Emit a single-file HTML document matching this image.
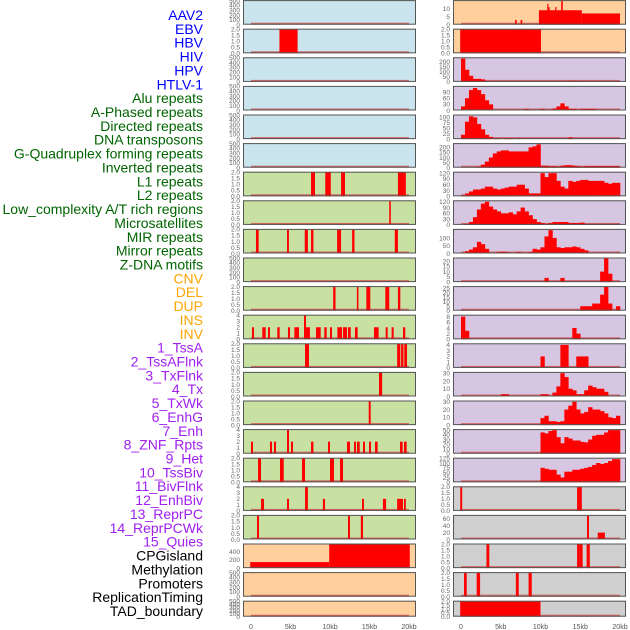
<!DOCTYPE html>
<html><head><meta charset="utf-8"><style>
html,body{margin:0;padding:0;background:#fff;}
svg{display:block;font-family:"Liberation Sans",sans-serif;}
</style></head><body>
<svg id="chart" width="630" height="630" viewBox="0 0 630 630"></svg>
<script>
const labels = ["AAV2","EBV","HBV","HIV","HPV","HTLV-1","Alu repeats","A-Phased repeats","Directed repeats","DNA transposons","G-Quadruplex forming repeats","Inverted repeats","L1 repeats","L2 repeats","Low_complexity A/T rich regions","Microsatellites","MIR repeats","Mirror repeats","Z-DNA motifs","CNV","DEL","DUP","INS","INV","1_TssA","2_TssAFlnk","3_TxFlnk","4_Tx","5_TxWk","6_EnhG","7_Enh","8_ZNF_Rpts","9_Het","10_TssBiv","11_BivFlnk","12_EnhBiv","13_ReprPC","14_ReprPCWk","15_Quies","CPGisland","Methylation","Promoters","ReplicationTiming","TAD_boundary"];
const labelGroups = [6,13,5,15,5];
const groupColors = ["#0000ff","#006400","#ffa500","#a020f0","#000000"];
const xTickLabels = ["0","5kb","10kb","15kb","20kb"];
const xTickValues = [0,5,10,15,20];

const T500=[0,100,200,300,400,500], T2=[0,0.5,1,1.5,2], T4=[0,1,2,3,4];
const leftYmax = [500,2,500,500,500,500,2,2,2,500,2,4,2,2,2,4,2,4,2,590,500,500];
const leftTicks = [T500,T2,T500,T500,T500,T500,T2,T2,T2,T500,T2,T4,T2,T2,T2,T4,T2,T4,T2,[0,200,400],T500,T500];
const leftSegs = [
 [],
 [[3.6,5.9,2]],
 [],[],[],[],
 [[7.6,8.1,2],[9.4,10.1,2],[11.4,11.9,2],[18.6,19.6,2]],
 [[17.5,17.7,2]],
 [[0.63,0.97,2],[4.56,4.8,2],[6.8,7.2,2],[7.6,7.9,2],[10.9,11.4,2],[12.8,13.1,2],[18.2,18.6,2]],
 [],
 [[10.4,10.7,2],[13.4,13.6,2],[14.6,15.1,2],[17.0,17.5,2],[18.6,18.9,2]],
 [[0.13,0.38,2],[1.43,1.86,2],[2.15,2.4,2],[3.33,3.63,2],[4.68,4.94,2],[5.49,6.08,2],[6.71,6.96,4],[6.96,7.46,2],[8.23,8.82,2],[9.28,9.58,2],[10.0,10.25,2],[10.93,11.52,2],[11.65,12.15,2],[12.28,12.62,2],[13.16,13.5,2],[15.57,16.16,2],[17.05,17.3,2],[17.8,18.06,2],[19.24,19.53,2]],
 [[6.84,7.34,2],[18.5,18.9,2],[19.0,19.3,2],[19.4,19.75,2]],
 [[16.2,16.6,2]],
 [[14.9,15.15,2]],
 [[0,0.25,2],[2.4,2.66,2],[2.91,3.16,2],[4.56,4.81,4],[5.06,5.32,2],[7.6,7.9,2],[9.75,10,2],[12.15,12.53,2],[13.04,13.29,2],[13.42,13.76,2],[14.18,14.43,2],[14.94,15.19,2],[15.7,16.03,2],[18.86,19.2,2],[19.37,19.7,2]],
 [[0.89,1.27,2],[3.67,4.14,2],[6.46,6.84,2],[10,10.5,2],[11.27,11.65,2]],
 [[1.27,1.65,2],[4.56,4.81,2],[6.84,7.2,4],[9.1,9.37,2],[14.05,14.3,2],[16.7,17.1,2],[18.5,19.24,2],[19.37,19.6,2]],
 [[0.76,1.01,2],[12.28,12.53,2],[13.9,14.18,2]],
 [[-0.1,9.9,147],[9.9,20.1,590]],
 [],[]
];
const leftBg = ["#c9e4ec","#c9e4ec","#c9e4ec","#c9e4ec","#c9e4ec","#c9e4ec","#c8e1a2","#c8e1a2","#c8e1a2","#c8e1a2","#c8e1a2","#c8e1a2","#c8e1a2","#c8e1a2","#c8e1a2","#c8e1a2","#c8e1a2","#c8e1a2","#c8e1a2","#ffd09e","#ffd09e","#ffd09e"];

const rightYmax = [15,2,238,118,111,237,125,125,155,23,27,8.5,4.2,31,31,51,125,2,70,2,2,2];
const rightTicks = [[0,5,10],T2,[0,50,100,150,200],[0,30,60,90],[0,25,50,75,100],[0,50,100,150,200],[0,30,60,90,120],[0,30,60,90,120],[0,50,100],[0,5,10,15,20],[0,5,10,15,20,25],[0,2,4,6,8],T4,[0,10,20,30],[0,10,20,30],[0,10,20,30,40,50],[0,25,50,75,100,125],T2,[0,20,40,60],T2,T2,T2];
const rightSegs = [
 [[6.8,7.0,3],[7.5,7.7,3],[9.8,15.2,9],[10.85,11.0,13],[11.0,11.15,11],[11.85,12.0,11],[12.6,12.8,15],[15.2,20,7]],
 [[-0.1,10.06,2]],
 [],[],[],[],[],[],[],[],[],[],[],[],[],[],[],
 [[-0.1,0.15,2],[14.6,15.2,2]],
 [[15.85,16.1,70],[17.2,18.1,20]],
 [[3.2,3.56,2],[14.6,14.9,2],[14.9,15.3,2],[15.8,16.2,2]],
 [[0.38,0.72,2],[1.97,2.4,2],[6.9,7.26,2],[8.5,8.9,2]],
 [[-0.1,10.0,2]]
];
const rightBins = [
 [],[],
 [230,120,60,30,30,25,10,0,0,0,0,0,0,0,0,0,0,0,0,0,0,0,0,0,0,0,5,10,10,8,5,5,0,8,0,0,0,0,0,0],
 [20,60,100,110,100,80,50,30,0,0,0,0,0,0,0,0,8,0,0,0,8,0,0,10,20,35,20,8,8,0,8,8,8,8,0,0,0,0,0,0],
 [20,80,105,100,70,45,20,10,5,5,0,5,5,0,5,0,0,0,0,0,0,0,0,0,0,0,0,8,0,0,0,0,0,0,0,0,0,0,0,0],
 [0,0,0,0,10,30,60,100,140,160,170,170,160,160,160,160,160,200,210,230,20,20,15,15,10,20,25,25,20,15,10,15,15,15,15,15,15,15,15,15],
 [5,15,25,35,35,40,50,50,40,35,40,45,50,50,60,60,40,15,15,15,120,100,120,120,80,50,40,80,75,80,85,85,80,80,80,80,70,65,70,70],
 [0,5,15,40,80,110,120,95,80,70,60,60,65,55,70,90,70,50,30,15,10,5,10,15,15,15,15,10,10,10,12,5,5,5,5,5,5,5,5,5],
 [0,15,25,40,75,60,30,5,0,10,12,10,5,5,10,0,0,10,30,25,40,110,150,100,40,35,40,40,45,40,30,20,5,0,0,0,0,0,0,8],
 [0,0,0,0,0,0,0,0,0,0,0,0,0,0,0,0,0,0,0,0,0,4,0,0,0,4,0,0,0,0,0,0,0,0,0,10,23,8,0,0],
 [0,0,0,0,0,0,0,0,0,0,0,0,0,0,0,0,0,0,0,0,0,0,0,0,0,0,0,0,0,0,5,5,5,8,8,18,27,8,0,5],
 [8,3,0,0,0,0,0,0,0,0,0,0,0,0,0,0,0,0,0,0,0,0,0,0,0,0,0,0,4,2,0,0,0,0,0,0,0,0,0,0],
 [0,0,0,0,0,0,0,0,0,0,0,0,0,0,0,0,0,0,0,0,2,0,0,0,0,4,4,0,0,2,2,2,0,0,0,0,0,0,0,0],
 [0,0,0,0,0,0,0,0,0,0,3,3,0,0,0,0,0,0,0,0,3,3,0,5,13,30,25,10,8,3,3,8,14,12,10,10,6,0,0,0],
 [0,0,0,0,0,0,0,0,0,0,0,0,0,0,0,0,0,0,0,0,9,12,5,5,4,5,20,25,30,20,15,17,23,20,20,18,15,10,9,12],
 [0,0,0,0,0,0,0,0,0,0,0,0,0,0,0,0,0,0,0,0,45,43,48,50,35,22,35,32,28,28,25,24,30,38,40,40,45,50,50,50],
 [0,0,0,0,0,0,0,0,0,0,0,0,0,0,0,0,0,0,0,0,75,70,65,65,40,25,55,55,65,65,70,75,80,90,100,95,100,110,120,120],
 [],[],[],[],[]
];
const rightBg = ["#ffd09e","#ffd09e","#d6c6e1","#d6c6e1","#d6c6e1","#d6c6e1","#d6c6e1","#d6c6e1","#d6c6e1","#d6c6e1","#d6c6e1","#d6c6e1","#d6c6e1","#d6c6e1","#d6c6e1","#d6c6e1","#d6c6e1","#cfcfcf","#cfcfcf","#cfcfcf","#cfcfcf","#cfcfcf"];

const NS = "http://www.w3.org/2000/svg";
const svg = document.getElementById('chart');
function mk(tag, attrs, parent){ const e=document.createElementNS(NS,tag); for(const k in attrs) e.setAttribute(k,attrs[k]); (parent||svg).appendChild(e); return e; }

// labels
let li = 0;
labelGroups.forEach((n,g)=>{
  for(let j=0;j<n;j++){
    const t = mk('text',{x:203,y:15+13.86*li+5,'text-anchor':'end','font-size':14,fill:groupColors[g]});
    t.textContent = labels[li];
    
    
    li++;
  }
});

const BIN = 0.5;
function panelTop(i){ return 0.1 + 28.6*i; }
function panelH(i){ return i===21 ? 16 : 24.6; }

function drawColumn(side, px0, pw, zeroX, kbScale, ymaxArr, ticksArr, segsArr, binsArr, bgArr){
  const xs = kb => zeroX + kb*kbScale;
  for(let i=0;i<22;i++){
    const top = panelTop(i), h = panelH(i), bottom = top + h;
    const ymax = ymaxArr[i];
    const ys = v => bottom - Math.min(v, ymax)/ymax*(h-0.5);
    const g = mk('g',{});
    
    
    const bg = mk('rect',{x:px0,y:top,width:pw,height:h,fill:bgArr[i]},g);
    
    
    // baseline
    const bl = mk('rect',{x:xs(0),y:bottom-2,width:xs(20)-xs(0),height:2,fill:'#d24a4a',opacity:0.8},g);
    
    
    // segs
    (segsArr[i]||[]).forEach(s=>{
      const y = ys(s[2]);
      const r = mk('rect',{x:xs(s[0]),y:y,width:Math.max(1,xs(s[1])-xs(s[0])),height:bottom-y,fill:'#ff0000'},g);
      
      
    });
    (binsArr[i]||[]).forEach((v,b)=>{
      if(v<=0) return;
      const y = ys(v);
      const r = mk('rect',{x:xs(b*BIN),y:y,width:xs((b+1)*BIN)-xs(b*BIN)+0.3,height:bottom-y,fill:'#ff0000'},g);
      
      
    });
    const fr = mk('rect',{x:px0+0.5,y:top+0.5,width:pw-1,height:h-1,fill:'none',stroke:'#555','stroke-width':1},g);
    
    
    ticksArr[i].forEach(tv=>{
      const t = mk('text',{x:px0-3,y:ys(tv)+2.3,'text-anchor':'end','font-size':6.5,fill:'#666'},g);
      t.textContent = (ticksArr[i]===T2) ? tv.toFixed(1) : String(tv);
      
      
    });
  }
  xTickValues.forEach((v,k)=>{
    const t = mk('text',{x:xs(v),y:629,'text-anchor':'middle','font-size':7,fill:'#555'});
    t.textContent = xTickLabels[k];
    
    
  });
}
drawColumn('left', 243, 173, 251, 7.9, leftYmax, leftTicks, leftSegs, [], leftBg);
drawColumn('right', 453, 173, 461, 7.95, rightYmax, rightTicks, rightSegs, rightBins, rightBg);
</script>
</body></html>
